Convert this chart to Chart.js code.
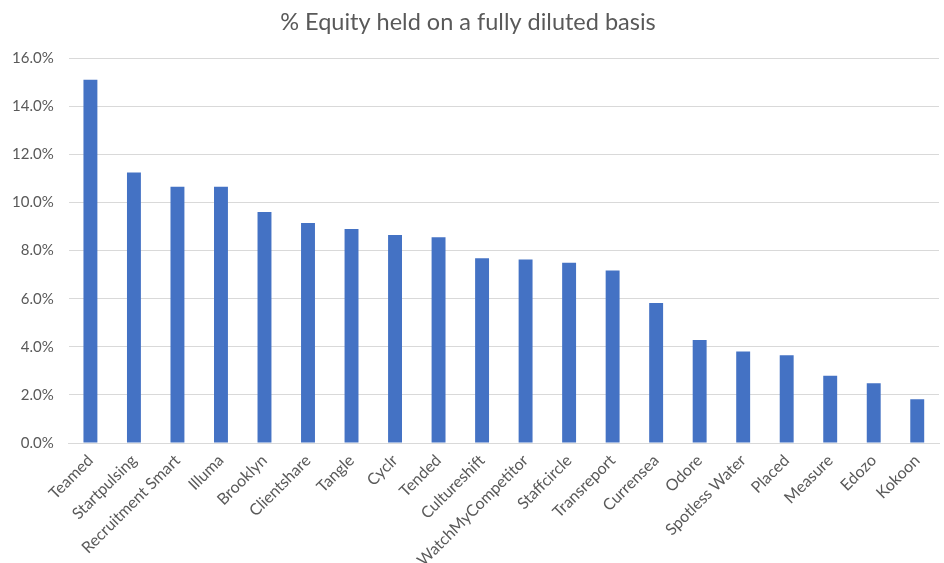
<!DOCTYPE html>
<html>
<head>
<meta charset="utf-8">
<script src="https://cdn.jsdelivr.net/npm/chart.js@4/dist/chart.umd.min.js"></script>
<style>
html,body{margin:0;padding:0;background:#fff;}
#wrap{width:944px;height:563px;position:relative;}
</style>
</head>
<body>
<div id="wrap"><canvas id="c" width="944" height="563"></canvas></div>
<script>
const categories = ["Teamed","Startpulsing","Recruitment Smart","Illuma","Brooklyn","Clientshare","Tangle","Cyclr","Tended","Cultureshift","WatchMyCompetitor","Staffcircle","Transreport","Currensea","Odore","Spotless Water","Placed","Measure","Edozo","Kokoon"];
const equityValues = [15.1,11.25,10.65,10.65,9.6,9.15,8.9,8.65,8.55,7.68,7.63,7.5,7.17,5.82,4.28,3.8,3.65,2.8,2.48,1.82];
const titleText = "% Equity held on a fully diluted basis";

new Chart(document.getElementById('c'), {
  type: 'bar',
  data: {
    labels: categories,
    datasets: [{
      data: equityValues,
      backgroundColor: '#4472C4',
      borderWidth: 0,
      categoryPercentage: 1,
      barPercentage: 0.32
    }]
  },
  options: {
    responsive: false,
    animation: false,
    devicePixelRatio: 1,
    layout: { padding: { left: -3, right: 5, top: 8, bottom: 0 } },
    plugins: {
      legend: { display: false },
      tooltip: { enabled: false },
      title: {
        display: true,
        text: titleText,
        color: '#595959',
        font: { family: 'Lato', size: 23.5, weight: 'normal' },
        padding: { top: 0, bottom: 22 }
      }
    },
    scales: {
      x: {
        grid: { display: false, drawTicks: false },
        border: { display: true, color: '#d9d9d9' },
        ticks: {
          color: '#595959',
          font: { family: 'Lato', size: 16 },
          maxRotation: 45,
          minRotation: 45,
          autoSkip: false,
          padding: 8
        },
        afterFit: s => { s.height = 120; }
      },
      y: {
        min: 0,
        max: 16,
        grid: { color: '#d9d9d9', drawTicks: false, lineWidth: 1 },
        border: { display: false },
        ticks: {
          stepSize: 2,
          color: '#595959',
          font: { family: 'Lato', size: 15 },
          padding: 15,
          callback: v => v.toFixed(1) + '%'
        }
      }
    }
  }
});
</script>
</body>
</html>
